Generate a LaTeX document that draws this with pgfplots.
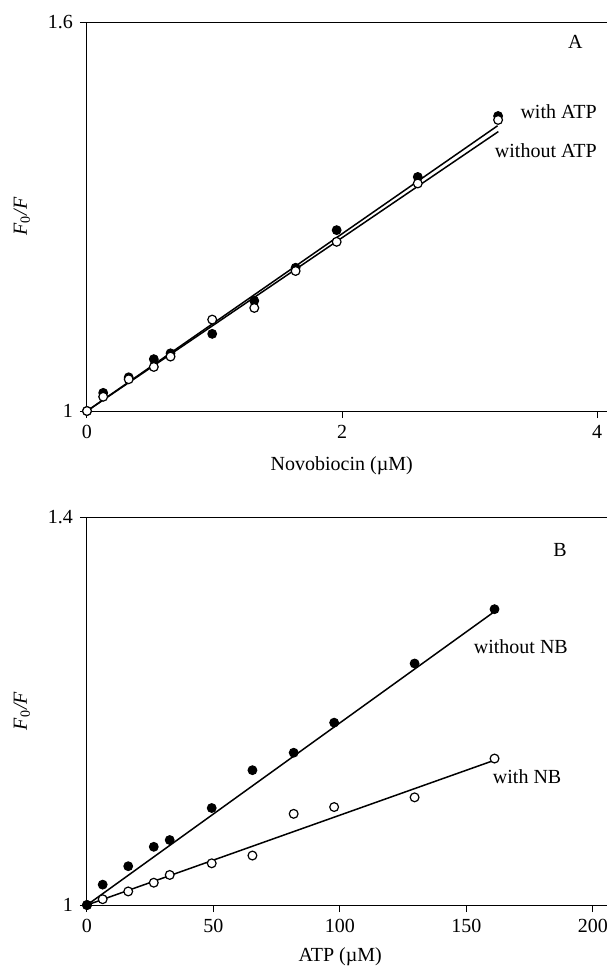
\documentclass[border=0pt]{standalone}
\usepackage{fontspec}
\setmainfont{Liberation Serif}
\usepackage{pgfplots}
\pgfplotsset{compat=1.18}
\begin{document}
\begin{tikzpicture}
\useasboundingbox (0,0) rectangle (303pt,-485pt);
\pgfplotsset{
  every axis/.append style={
    scale only axis,
    width=266.5pt,
    axis line style={line width=0.5pt},
    tick align=outside,
    tick pos=left,
    major tick length=3.5pt,
    tick style={line width=0.5pt,black},
    /pgf/number format/assume math mode=true,
    clip=false,
    ymin=1,
    ticklabel style={font=\normalsize},
  },
  fitline/.style={black,line width=0.75pt,no marks},
  filledpt/.style={only marks,mark=*,mark size=2.2pt,mark options={fill=black,draw=black,line width=0.5pt}},
  openpt/.style={only marks,mark=*,mark size=2.2pt,mark options={fill=white,draw=black,line width=0.6pt}},
}
% Panel A
\begin{axis}[
  at={(43.5pt,-205.5pt)}, anchor=south west,
  height=194.5pt,
  xmin=0, xmax=4.18, ymax=1.6,
  xtick={0,2,4}, ytick={1,1.6},
  yticklabels={1,1.6},
  xlabel={Novobiocin (µM)},
  ylabel={\textit{F}\textsubscript{0}\textit{/F}},
  x label style={at={(axis description cs:0.478,-0.141)},anchor=center},
  y label style={at={(axis description cs:-0.122,0.5)},anchor=center},
]
\addplot[fitline] coordinates {(0,1) (3.220,1.440)};
\addplot[fitline] coordinates {(0,1) (3.226,1.431)};
\addplot[filledpt] coordinates {
(0,1.0) (0.127,1.028) (0.327,1.052) (0.524,1.080) (0.655,1.089) (0.982,1.119)
(1.312,1.170) (1.636,1.221) (1.958,1.279) (2.594,1.361) (3.224,1.455)};
\addplot[openpt] coordinates {
(0,1.0) (0.127,1.022) (0.327,1.049) (0.524,1.068) (0.655,1.084) (0.982,1.141)
(1.312,1.159) (1.636,1.216) (1.958,1.261) (2.594,1.351) (3.224,1.449)};
\node[anchor=east,inner sep=0pt] at (axis cs:4.0,1.461) {with ATP};
\node[anchor=east,inner sep=0pt] at (axis cs:4.0,1.401) {without ATP};
\node at (axis cs:3.83,1.569) {A};
\end{axis}
% Panel B
\begin{axis}[
  at={(43.5pt,-452.5pt)}, anchor=south west,
  height=194pt,
  xmin=0, xmax=210.7, ymax=1.4,
  xtick={0,50,100,150,200}, ytick={1,1.4},
  yticklabels={1,1.4},
  xlabel={ATP (µM)},
  ylabel={\textit{F}\textsubscript{0}\textit{/F}},
  x label style={at={(axis description cs:0.475,-0.134)},anchor=center},
  y label style={at={(axis description cs:-0.122,0.5)},anchor=center},
]
\addplot[fitline] coordinates {(0,1) (160.8,1.302)};
\addplot[fitline] coordinates {(0,1) (160.8,1.149)};
\addplot[openpt] coordinates {
(0,1.0) (6.2,1.006) (16.3,1.014) (26.4,1.023) (32.7,1.031) (49.3,1.043)
(65.4,1.051) (81.7,1.094) (97.7,1.101) (129.5,1.111) (161.1,1.151)};
\addplot[filledpt] coordinates {
(0,1.0) (6.2,1.021) (16.3,1.040) (26.4,1.060) (32.7,1.067) (49.3,1.100)
(65.4,1.139) (81.7,1.157) (97.7,1.188) (129.5,1.249) (161.1,1.305)};
\node at (axis cs:171.5,1.266) {without NB};
\node at (axis cs:174,1.132) {with NB};
\node at (axis cs:187,1.366) {B};
\end{axis}
\end{tikzpicture}
\end{document}
